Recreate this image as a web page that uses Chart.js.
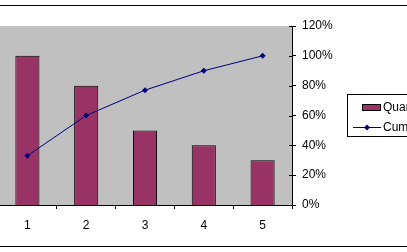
<!DOCTYPE html>
<html>
<head>
<meta charset="utf-8">
<script src="https://cdn.jsdelivr.net/npm/chart.js@4.4.1/dist/chart.umd.min.js"></script>
<style>
  html, body { margin: 0; padding: 0; background: #fff; overflow: hidden; }
  #wrap { width: 407px; height: 252px; overflow: hidden; }
  #paretoChart { margin-left: -2px; display: block; }
</style>
</head>
<body>
<div id="wrap"><canvas id="paretoChart" width="409" height="252"></canvas></div>
<script>
const categories = ["1", "2", "3", "4", "5"];
const quantity = [10, 8, 5, 4, 3];
const cumulative = [33, 60, 77, 90, 100];
const seriesNames = ["Quantity", "Cumulative %"];

const FONT = "'Liberation Sans', Arial, sans-serif";
const SHIFT = 2; // canvas is pulled 2px left so the plot area starts just off-screen

// gray plot area, outer chart border lines and the legend box
const excelLook = {
    id: "excelLook",
    beforeDraw(chart) {
        const ctx = chart.ctx;
        const a = chart.chartArea;
        ctx.save();
        ctx.fillStyle = "#c0c0c0";
        ctx.fillRect(a.left, a.top, a.right - a.left, a.bottom - a.top);
        ctx.restore();
    },
    afterDraw(chart) {
        const ctx = chart.ctx;
        const a = chart.chartArea;
        ctx.save();
        ctx.translate(SHIFT, 0);
        ctx.strokeStyle = "#000";
        ctx.lineWidth = 1;
        ctx.beginPath();
        ctx.moveTo(-SHIFT, 5.5);
        ctx.lineTo(407, 5.5);
        ctx.moveTo(-SHIFT, 246.5);
        ctx.lineTo(407, 246.5);
        ctx.stroke();

        // legend
        ctx.fillStyle = "#fff";
        ctx.fillRect(347.5, 94.5, 80, 42);
        ctx.strokeRect(347.5, 94.5, 80, 42);

        ctx.fillStyle = "#993366";
        ctx.fillRect(362.5, 104.5, 18, 6);
        ctx.strokeRect(362.5, 104.5, 18, 6);

        ctx.strokeStyle = "#000080";
        ctx.beginPath();
        ctx.moveTo(353, 127.5);
        ctx.lineTo(381, 127.5);
        ctx.stroke();
        ctx.fillStyle = "#000080";
        ctx.beginPath();
        ctx.moveTo(367, 124.5);
        ctx.lineTo(370, 127.5);
        ctx.lineTo(367, 130.5);
        ctx.lineTo(364, 127.5);
        ctx.closePath();
        ctx.fill();

        ctx.fillStyle = "#000";
        ctx.font = "12px " + FONT;
        ctx.textBaseline = "middle";
        ctx.fillText(seriesNames[0], 383, 107.5);
        ctx.fillText(seriesNames[1], 383, 127.5);
        ctx.restore();

        // inner half of the crossing tick marks on the right axis
        ctx.save();
        ctx.strokeStyle = "#000";
        ctx.beginPath();
        chart.scales.y1.ticks.forEach(t => {
            const y = Math.round(chart.scales.y1.getPixelForValue(t.value)) + 0.5;
            ctx.moveTo(a.right - 3, y);
            ctx.lineTo(a.right, y);
        });
        ctx.stroke();
        ctx.restore();
    }
};

new Chart(document.getElementById("paretoChart"), {
    data: {
        labels: categories,
        datasets: [{
            type: "line",
            label: seriesNames[1],
            data: cumulative,
            yAxisID: "y1",
            borderColor: "#000080",
            backgroundColor: "#000080",
            borderWidth: 1,
            pointStyle: "rectRot",
            pointRadius: 3,
            pointBorderWidth: 0,
            order: 0
        }, {
            type: "bar",
            label: seriesNames[0],
            data: quantity,
            yAxisID: "y",
            backgroundColor: "#993366",
            borderColor: "#000",
            borderWidth: 1,
            categoryPercentage: 1,
            barPercentage: 0.41,
            order: 1
        }]
    },
    options: {
        responsive: false,
        animation: false,
        layout: { autoPadding: false, padding: { left: 0, top: 26, right: 0, bottom: 0 } },
        plugins: {
            legend: { display: false },
            tooltip: { enabled: false }
        },
        scales: {
            x: {
                grid: {
                    offset: true,
                    drawOnChartArea: false,
                    drawTicks: true,
                    tickLength: 4,
                    color: "#000"
                },
                border: { color: "#000" },
                ticks: { color: "#000", padding: 9, font: { family: FONT, size: 12 } },
                afterFit(scale) {
                    scale.height = 47;
                    scale.paddingLeft = 0;
                    scale.paddingRight = 0;
                }
            },
            y: {
                display: false,
                min: 0,
                max: 12
            },
            y1: {
                position: "right",
                min: 0,
                max: 120,
                ticks: {
                    stepSize: 20,
                    color: "#000",
                    padding: 6,
                    font: { family: FONT, size: 12 },
                    callback: v => v + "%"
                },
                grid: {
                    drawOnChartArea: false,
                    tickLength: 4,
                    color: "#000"
                },
                border: { color: "#000" },
                afterFit(scale) {
                    scale.width = 115;
                    scale.paddingTop = 0;
                    scale.paddingBottom = 0;
                }
            }
        }
    },
    plugins: [excelLook]
});
</script>
</body>
</html>
